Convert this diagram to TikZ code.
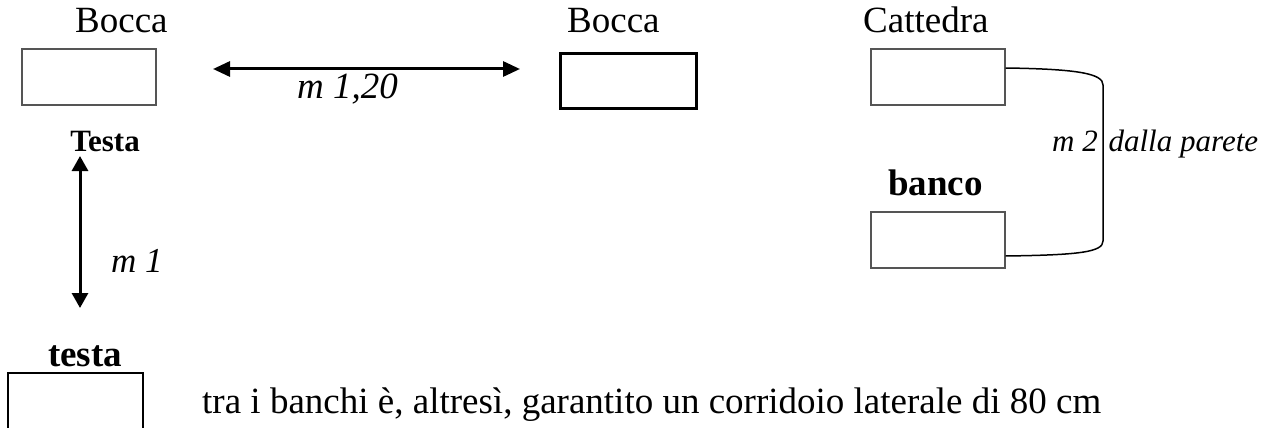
\documentclass[tikz,border=0pt]{standalone}
\usepackage{fontspec}
\setmainfont{Liberation Serif}
\usetikzlibrary{arrows.meta,calc}
\definecolor{boxgray}{HTML}{555555}
\tikzset{
  lbl/.style={inner sep=0pt, anchor=base west, font=\fontsize{37}{41}\selectfont},
  lblb/.style={inner sep=0pt, anchor=base, font=\fontsize{37}{41}\selectfont\bfseries},
  lbli/.style={inner sep=0pt, anchor=base west, font=\fontsize{37}{41}\selectfont\itshape},
  graybox/.style={draw=boxgray, line width=2pt, minimum width=134pt, minimum height=56pt, inner sep=0pt},
  blackbox/.style={draw=black, line width=3pt, minimum width=136pt, minimum height=54pt, inner sep=0pt},
  dimarrow/.style={line width=3pt, {Triangle[length=17pt,width=15pt]}-{Triangle[length=17pt,width=15pt]}},
  vdimarrow/.style={line width=3pt, {Triangle[length=15pt,width=16pt]}-{Triangle[length=15pt,width=16pt]}},
  wallline/.style={line width=1.5pt, draw=black}
}
\begin{document}
\begin{tikzpicture}[x=1pt,y=-1pt]
\useasboundingbox (0,0) rectangle (1271,428);
\clip (0,0) rectangle (1271,428);
% top row labels
\node[lbl] (bocca1) at (75,33) {Bocca};
\node[lbl] (bocca2) at (567,33) {Bocca};
\node[lbl] (catt) at (863,33) {Cattedra};
% boxes
\node[graybox] (b1) at (89,77) {};
\node[blackbox] (b2) at (628,81) {};
\node[graybox] (b3) at (937.5,77) {};
\node[graybox] (b4) at (937.5,240) {};
% horizontal dimension
\coordinate (ha) at (213,69);
\coordinate (hb) at (520,69);
\draw[dimarrow] (ha) -- (hb);
\node[lbli] (m120) at (297,99) {m 1,20};
% left column
\node[lblb, font=\fontsize{31}{34}\selectfont\bfseries] (testa1) at (105,151) {Testa};
\coordinate (va) at (80,156);
\coordinate (vb) at (80,308);
\draw[vdimarrow] (va) -- (vb);
\node[lbli, font=\fontsize{35}{39}\selectfont\itshape] (m1) at (111,272) {m 1};
\node[lblb] (testa2) at (85,366) {testa};
\draw[line width=1.5pt] (8,440) |- (143,373) -- (143,440);
\node[lbl] (note) at (202,413) {tra i banchi è, altresì, garantito un corridoio laterale di 80 cm};
% right column
\node[lblb] (banco) at (935.5,195) {banco};
\coordinate (c1) at ([yshift=9pt]b3.east);
\coordinate (c2) at ([yshift=-16pt]b4.east);
\draw[wallline] (c1) .. controls (1080,69) and (1103,74) .. (1103,85) -- (1103,241) .. controls (1103,252) and (1080,255) .. (c2);
\node[lbli, font=\fontsize{31}{34}\selectfont\itshape] (m2) at (1052,151) {m 2\hspace{3pt} dalla parete};
\end{tikzpicture}
\end{document}
